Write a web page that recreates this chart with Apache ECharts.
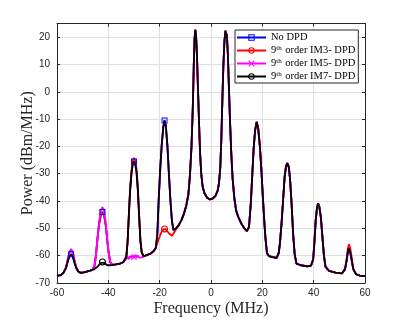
<!DOCTYPE html>
<html>
<head>
<meta charset="utf-8">
<script src="https://cdn.jsdelivr.net/npm/echarts@6/dist/echarts.min.js"></script>
<style>
html,body{margin:0;padding:0;background:#fff;}
#chart{width:399px;height:330px;}
</style>
</head>
<body>
<div id="chart"></div>
<script>
// Frequency grid (MHz)
const freq = [
 -60,-58.5,-57.5,-56.5,-55.8,-55.2,-54.5,-53.8,-53.2,-52.5,
 -51.7,-50.8,-49,-47.5,-46.2,-45.4,-44.8,-44.2,-43.6,-42.9,
 -42.3,-41.7,-41,-40.4,-39.8,-39.2,-38.4,-37,-35.5,-34.2,
 -33.5,-33,-32.5,-32,-31.5,-31,-30.5,-30,-29.5,-29,
 -28.5,-28,-27.5,-27,-26.3,-25,-23.5,-22.4,-21.5,-20.9,
 -20.4,-19.8,-19.2,-18.6,-18.1,-17.6,-17,-16.4,-15.8,-15.2,
 -14.6,-13.8,-12.7,-11.5,-10.5,-9.6,-8.8,-8.2,-7.6,-7.1,
 -6.7,-6.4,-6.1,-5.8,-5.5,-5.2,-4.9,-4.5,-4.2,-3.8,
 -3.3,-2.6,-1.5,-0.4,0.8,1.8,2.6,3.1,3.6,4,
 4.4,4.8,5.2,5.6,5.9,6.2,6.6,7,7.4,7.9,
 8.4,9.1,9.8,10.7,11.8,13,14,14.8,15.5,16,
 16.6,17.2,17.8,18.4,19,19.6,20.2,20.7,21.2,21.8,
 22.6,24,25.6,26.4,26.9,27.5,28.1,28.7,29.2,29.7,
 30.3,30.8,31.4,32,32.6,33.3,35,37.5,39,39.8,
 40.3,40.8,41.3,41.7,42.2,42.8,43.4,44,44.6,46,
 48.5,51,52.2,52.8,53.3,53.7,54.2,54.8,55.4,56.5,
 58,60
];
// No DPD
const noDPD = [
 -67.4,-67.1,-66.3,-64.5,-62,-60.3,-59.5,-60.5,-62.5,-64.5,
 -65.8,-66.3,-66,-65.6,-65.2,-63.8,-59.5,-53.5,-48.5,-45,
 -44,-45,-49,-54.5,-59.5,-62.5,-63.4,-63.2,-62.9,-62.4,
 -61.8,-60.5,-55,-45,-36,-30,-26.5,-25.5,-26.5,-29.5,
 -36,-45.5,-54.5,-58.8,-60.2,-59.8,-59.2,-58.4,-57.2,-52,
 -40,-28.5,-19.5,-13,-10.5,-12.5,-19.5,-30,-40,-47.5,
 -50.6,-50.2,-49,-47,-44.5,-41.5,-37.5,-30.5,-20,-6,
 10,19.5,22.7,20,14,5,-4,-16,-23.5,-30,
 -34.5,-37,-38.8,-39.4,-39,-38,-36.2,-33.5,-28,-18,
 -4,9,18,22.3,22.9,20.5,13,1,-10.5,-22.5,
 -31.5,-39,-43.5,-46,-48.2,-50,-51,-49.5,-41,-32,
 -21,-14,-11,-13.5,-19.5,-28,-38.5,-46.5,-53.5,-59,
 -60.2,-60.5,-60.8,-59,-55,-48,-39.5,-31,-27.5,-26.1,
 -27.5,-32,-41,-52,-59.5,-62.9,-63.5,-63.9,-63.6,-61.4,
 -55,-47,-42.5,-40.8,-42,-46,-53,-60,-64,-65.6,
 -66.2,-66.5,-65,-62,-58.8,-57.3,-58.5,-61.5,-64.8,-66.8,
 -67.3,-67.5
];
// 9th order IM3- DPD
const im3DPD = [
 -67.4,-67.1,-66.3,-64.3,-61.3,-59,-57.6,-59,-61.6,-64.3,
 -65.8,-66.3,-66,-65.6,-65.2,-63.8,-59.5,-53.5,-48.5,-45,
 -44,-45,-49,-54.5,-59.5,-62.5,-63.4,-63.2,-62.9,-62.4,
 -61.8,-60.5,-55,-45,-35,-29,-25.2,-24.2,-25.3,-28.5,
 -35,-45.5,-54.5,-58.8,-60.2,-59.8,-59.2,-58.4,-57,-55.5,
 -54,-52.5,-51.2,-50.4,-50.2,-50.3,-50.8,-51.8,-52.5,-52.7,
 -52,-50.6,-49,-47,-44.5,-41.5,-37.5,-30.5,-20,-6,
 10,19.5,22.7,20,14,5,-4,-16,-23.5,-30,
 -34.5,-37,-38.8,-39.4,-39,-38,-36.2,-33.5,-28,-18,
 -4,9,18,22.3,22.9,20.5,13,1,-10.5,-22.5,
 -31.5,-39,-43.5,-46,-48.2,-50,-51,-49.5,-41,-32,
 -21,-14,-11,-13.5,-19.5,-28,-38.5,-46.5,-53.5,-59,
 -60.2,-60.5,-60.8,-59,-55,-48,-39.5,-31,-27.5,-26.1,
 -27.5,-32,-41,-52,-59.5,-62.9,-63.5,-63.9,-63.6,-61.4,
 -55,-47,-42.5,-40.8,-42,-46,-53,-60,-64,-65.6,
 -66.2,-66.5,-65,-61.5,-57.5,-55.8,-57,-60.5,-64.8,-66.8,
 -67.3,-67.5
];
// 9th order IM5- DPD
const im5DPD = [
 -67.4,-67.1,-66.3,-64.3,-61.3,-59,-57.6,-59,-61.6,-64.3,
 -65.8,-66.3,-66,-65.6,-65.2,-63.8,-59.5,-53.5,-47.5,-43.3,
 -42.2,-43.3,-47.8,-54.5,-59.5,-62.5,-63.4,-63.2,-62.9,-62.4,
 -61.8,-61.2,-60.4,-61.3,-60.1,-60.9,-59.8,-60.6,-59.7,-60.8,
 -59.9,-60.7,-60,-60.6,-60.2,-59.8,-59.2,-58.4,-57.2,-52,
 -40,-28.5,-19.5,-13,-10.5,-12.5,-19.5,-30,-40,-47.5,
 -50.6,-50.2,-49,-47,-44.5,-41.5,-37.5,-30.5,-20,-6,
 10,19.5,22.7,20,14,5,-4,-16,-23.5,-30,
 -34.5,-37,-38.8,-39.4,-39,-38,-36.2,-33.5,-28,-18,
 -4,9,18,22.3,22.9,20.5,13,1,-10.5,-22.5,
 -31.5,-39,-43.5,-46,-48.2,-50,-51,-49.5,-41,-32,
 -21,-14,-11,-13.5,-19.5,-28,-38.5,-46.5,-53.5,-59,
 -60.2,-60.5,-60.8,-59,-55,-48,-39.5,-31,-27.5,-26.1,
 -27.5,-32,-41,-52,-59.5,-62.9,-63.5,-63.9,-63.6,-61.4,
 -55,-47,-42.5,-40.8,-42,-46,-53,-60,-64,-65.6,
 -66.2,-66.5,-65,-62,-58.8,-57.3,-58.5,-61.5,-64.8,-66.8,
 -67.3,-67.5
];
// 9th order IM7- DPD
const im7DPD = [
 -67.4,-67.1,-66.3,-64.5,-62,-60.3,-59.5,-60.5,-62.5,-64.5,
 -65.8,-66.3,-66,-65.6,-65.2,-64.9,-64.5,-64,-63.4,-62.6,
 -62.3,-62.6,-63.2,-63.5,-63.6,-63.5,-63.4,-63.2,-62.9,-62.4,
 -61.8,-60.5,-55,-45,-36,-30,-26.5,-25.5,-26.5,-29.5,
 -36,-45.5,-54.5,-58.8,-60.2,-59.8,-59.2,-58.4,-57.2,-52,
 -40,-28.5,-19.5,-13,-10.5,-12.5,-19.5,-30,-40,-47.5,
 -50.6,-50.2,-49,-47,-44.5,-41.5,-37.5,-30.5,-20,-6,
 10,19.5,22.7,20,14,5,-4,-16,-23.5,-30,
 -34.5,-37,-38.8,-39.4,-39,-38,-36.2,-33.5,-28,-18,
 -4,9,18,22.3,22.9,20.5,13,1,-10.5,-22.5,
 -31.5,-39,-43.5,-46,-48.2,-50,-51,-49.5,-41,-32,
 -21,-14,-11,-13.5,-19.5,-28,-38.5,-46.5,-53.5,-59,
 -60.2,-60.5,-60.8,-59,-55,-48,-39.5,-31,-27.5,-26.1,
 -27.5,-32,-41,-52,-59.5,-62.9,-63.5,-63.9,-63.6,-61.4,
 -55,-47,-42.5,-40.8,-42,-46,-53,-60,-64,-65.6,
 -66.2,-66.5,-65,-62,-58.8,-57.3,-58.5,-61.5,-64.8,-66.8,
 -67.3,-67.5
];
// Frequencies where each series shows its markers
const noDPDMarkers = [-54.5, -42.3, -30, -18.1];
const im3Markers = [-18.1];
const im5Markers = [-30];
const im7Markers = [-42.3];
const seriesNames = ['No DPD', '9th order IM3- DPD', '9th order IM5- DPD', '9th order IM7- DPD'];
const xTicks = [-60, -40, -20, 0, 20, 40, 60];
const yTicks = [-70, -60, -50, -40, -30, -20, -10, 0, 10, 20];

// hollow marker shapes (transparent inside)
const SQ = 'path://M0,0L10,0L10,10L0,10Z M1.6,1.6L1.6,8.4L8.4,8.4L8.4,1.6Z';
const CI = 'path://M5,0A5,5,0,1,1,5,10A5,5,0,1,1,5,0Z M5,1.6A3.4,3.4,0,1,0,5,8.4A3.4,3.4,0,1,0,5,1.6Z';
const XS = 'path://M0,1.2L1.2,0L5,3.8L8.8,0L10,1.2L6.2,5L10,8.8L8.8,10L5,6.2L1.2,10L0,8.8L3.8,5Z';

function mk(name, vals, marks, color, symbol, size) {
  const idx = marks.map(f => freq.indexOf(f));
  return {
    name: name, type: 'line', data: freq.map((f, i) => [f, vals[i]]),
    symbol: symbol, showSymbol: true, showAllSymbol: true,
    symbolSize: (v, p) => idx.indexOf(p.dataIndex) >= 0 ? size : 0,
    lineStyle: { color: color, width: 1.8 }, itemStyle: { color: color },
    emphasis: { disabled: true },
    animation: false, z: 2
  };
}

const TICKFONT = 'Liberation Sans, Arial, sans-serif';
const SERIF = 'Liberation Serif, DejaVu Serif, serif';
const AX = '#262626';
const GRID = '#dfdfdf';

const chart = echarts.init(document.getElementById('chart'), null, { renderer: 'canvas' });
chart.setOption({
  backgroundColor: '#fff',
  animation: false,
  grid: { left: 57, right: 34, top: 23.5, bottom: 47, containLabel: false },
  legend: {
    orient: 'vertical', left: 235, top: 30,
    backgroundColor: '#fff', borderColor: AX, borderWidth: 1, borderRadius: 0,
    padding: [2, 3, 1, 1], itemGap: 2, itemWidth: 29, itemHeight: 8,
    data: seriesNames,
    textStyle: { fontFamily: SERIF, fontSize: 10.5, color: '#000', lineHeight: 11,
      rich: {
        n: { fontFamily: SERIF, fontSize: 10.5, color: '#000', lineHeight: 11 },
        s: { fontFamily: SERIF, fontSize: 7, color: '#000', lineHeight: 11, verticalAlign: 'top', padding: [0, 1, 0, 0] }
      }
    },
    formatter: function (name) {
      if (name.indexOf('9th') === 0) return '{n|9}{s|th}{n|' + name.slice(3) + '}';
      return '{n|' + name + '}';
    },
    itemTextGap: 1
  },
  xAxis: [{
    type: 'value', min: xTicks[0], max: xTicks[xTicks.length - 1], interval: 20,
    name: 'Frequency (MHz)', nameLocation: 'middle', nameGap: 18, nameMoveOverlap: false,
    nameTextStyle: { fontFamily: SERIF, fontSize: 16, color: AX },
    axisLine: { show: true, onZero: false, lineStyle: { color: AX, width: 1 } },
    axisTick: { show: true, inside: true, length: 3, lineStyle: { color: AX } },
    axisLabel: { fontFamily: TICKFONT, fontSize: 10, color: AX, margin: 5 },
    splitLine: { show: true, lineStyle: { color: GRID, width: 1 } }
  }, {
    type: 'value', position: 'top', min: xTicks[0], max: xTicks[xTicks.length - 1], interval: 20,
    axisLine: { show: true, onZero: false, lineStyle: { color: AX, width: 1 } },
    axisTick: { show: true, inside: true, length: 3, lineStyle: { color: AX } },
    axisLabel: { show: false }, splitLine: { show: false }
  }],
  yAxis: [{
    type: 'value', min: yTicks[0], max: 25, interval: 10,
    name: 'Power (dBm/MHz)', nameLocation: 'middle', nameGap: 21, nameMoveOverlap: false,
    nameTextStyle: { fontFamily: SERIF, fontSize: 16, color: AX },
    axisLine: { show: true, onZero: false, lineStyle: { color: AX, width: 1 } },
    axisTick: { show: true, inside: true, length: 3, lineStyle: { color: AX } },
    axisLabel: { fontFamily: TICKFONT, fontSize: 10, color: AX, margin: 7, showMaxLabel: false },
    splitLine: { show: true, lineStyle: { color: GRID, width: 1 } }
  }, {
    type: 'value', position: 'right', min: yTicks[0], max: 25, interval: 10,
    axisLine: { show: true, onZero: false, lineStyle: { color: AX, width: 1 } },
    axisTick: { show: true, inside: true, length: 3, lineStyle: { color: AX } },
    axisLabel: { show: false }, splitLine: { show: false }
  }],
  series: [
    mk(seriesNames[0], noDPD, noDPDMarkers, '#0000ff', SQ, 6),
    mk(seriesNames[1], im3DPD, im3Markers, '#ff0000', CI, 7),
    mk(seriesNames[2], im5DPD, im5Markers, '#ff00ff', XS, 6),
    mk(seriesNames[3], im7DPD, im7Markers, '#000000', CI, 7)
  ]
});
</script>
</body>
</html>
